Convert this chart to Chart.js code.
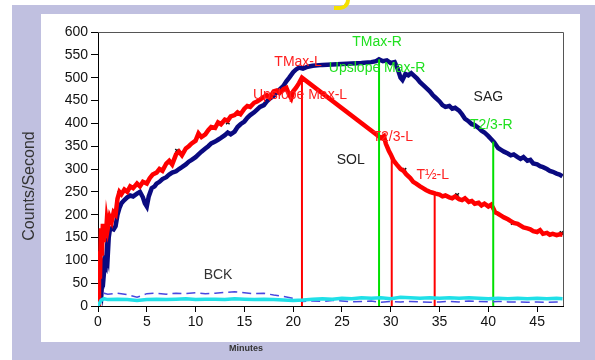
<!DOCTYPE html>
<html>
<head>
<meta charset="utf-8">
<script src="https://cdn.jsdelivr.net/npm/chart.js@4/dist/chart.umd.min.js"></script>
<style>
  body { margin: 0; background: #fff; font-family: "Liberation Sans", Arial, sans-serif; }
  #wrap { position: relative; width: 595px; height: 360px; overflow: hidden; }
  #frame { position: absolute; left: 12px; top: 5px; width: 583px; height: 355px; background: #c0c0e0; }
  #panel { position: absolute; left: 41px; top: 14px; width: 539px; height: 328px; background: #fff; }
  #blob { position: absolute; left: 334px; top: -6px; width: 12px; height: 12px; border-bottom: 4px solid #f4e000; border-right: 4px solid #f4e000; border-radius: 0 0 10px 0; }
  canvas { position: absolute; left: 0; top: 0; }
</style>
</head>
<body>
<div id="wrap">
  <div id="frame"></div>
  <div id="panel"></div>
  <div id="blob"></div>
  <canvas id="curveChart" width="595" height="360"></canvas>
</div>
<script>
// left kidney (red) counts/second
const leftMinutes = [0, 0.1, 0.2, 0.3, 0.4, 0.5, 0.6, 0.7, 0.8, 0.9, 1.0, 1.2, 1.4, 1.6, 1.8, 2.0, 2.2, 2.4, 2.7, 3.0, 3.3, 3.6, 4.0, 4.3, 4.6, 5.0, 5.3, 5.6, 6.0, 6.3, 6.6, 7.0, 7.3, 7.6, 8.0, 8.3, 8.6, 9.0, 9.3, 9.6, 10.0, 10.3, 10.6, 11.0, 11.3, 11.6, 12.0, 12.3, 12.6, 13.0, 13.3, 13.6, 14.0, 14.3, 14.6, 15.0, 15.3, 15.6, 16.0, 16.3, 16.6, 17.0, 17.3, 17.6, 18.0, 18.3, 18.6, 19.0, 19.3, 19.6, 19.8, 20.0, 20.3, 20.6, 20.9, 29.0, 29.3, 29.5, 29.8, 30.0, 30.3, 30.6, 31.0, 31.3, 31.6, 32.0, 32.3, 32.6, 33.0, 33.3, 33.6, 34.0, 34.3, 34.6, 35.0, 35.3, 35.6, 36.0, 36.3, 36.6, 37.0, 37.3, 37.6, 38.0, 38.3, 38.6, 39.0, 39.3, 39.6, 40.0, 40.3, 40.5, 40.7, 41.0, 41.3, 41.6, 42.0, 42.3, 42.6, 43.0, 43.3, 43.6, 44.0, 44.3, 44.6, 45.0, 45.3, 45.6, 46.0, 46.3, 46.6, 47.0, 47.3, 47.6];
const leftCounts = [0, 120, 60, 170, 110, 180, 140, 175, 150, 185, 170, 195, 185, 205, 200, 235, 250, 245, 255, 250, 262, 258, 268, 262, 272, 268, 280, 288, 292, 300, 296, 312, 318, 310, 332, 338, 330, 345, 350, 356, 362, 378, 370, 376, 385, 392, 390, 402, 398, 408, 406, 415, 418, 424, 420, 432, 438, 436, 445, 448, 452, 458, 462, 456, 470, 472, 466, 475, 478, 462, 455, 470, 478, 488, 500, 368, 372, 355, 340, 332, 318, 310, 300, 296, 288, 280, 272, 268, 262, 258, 254, 250, 248, 246, 244, 240, 242, 238, 236, 240, 234, 232, 236, 228, 230, 224, 226, 220, 224, 218, 222, 214, 205, 202, 198, 194, 190, 186, 182, 180, 176, 172, 170, 168, 164, 162, 166, 158, 160, 156, 158, 155, 157, 156];

// right kidney (navy) counts/second
const rightMinutes = [0, 0.2, 0.3, 0.4, 0.5, 0.6, 0.7, 0.8, 0.9, 1.0, 1.1, 1.2, 1.4, 1.6, 1.8, 2.0, 2.2, 2.4, 2.7, 3.0, 3.3, 3.6, 4.0, 4.3, 4.6, 4.8, 5.0, 5.2, 5.5, 5.8, 6.0, 6.3, 6.6, 7.0, 7.3, 7.6, 8.0, 8.3, 8.6, 9.0, 9.3, 9.6, 10.0, 10.3, 10.6, 11.0, 11.3, 11.6, 12.0, 12.3, 12.6, 13.0, 13.3, 13.6, 14.0, 14.3, 14.6, 15.0, 15.3, 15.6, 16.0, 16.3, 16.6, 17.0, 17.3, 17.6, 18.0, 18.3, 18.6, 19.0, 19.3, 19.6, 20.0, 20.3, 20.6, 21.0, 21.5, 22.0, 23.0, 24.0, 25.0, 26.0, 27.0, 28.0, 28.5, 28.8, 29.2, 29.6, 30.0, 30.4, 30.7, 31.0, 31.2, 31.5, 31.8, 32.1, 32.4, 32.7, 33.0, 33.3, 33.6, 34.0, 34.3, 34.6, 35.0, 35.3, 35.6, 36.0, 36.3, 36.6, 37.0, 37.3, 37.6, 38.0, 38.3, 38.6, 39.0, 39.3, 39.6, 40.0, 40.3, 40.6, 40.8, 41.0, 41.3, 41.6, 42.0, 42.3, 42.6, 43.0, 43.3, 43.6, 44.0, 44.3, 44.6, 45.0, 45.3, 45.6, 46.0, 46.3, 46.6, 47.0, 47.3, 47.6];
const rightCounts = [0, 20, 60, 45, 80, 70, 95, 90, 120, 110, 150, 165, 170, 168, 175, 200, 215, 225, 232, 238, 242, 240, 246, 250, 238, 225, 218, 240, 258, 262, 268, 272, 278, 282, 288, 292, 295, 300, 304, 310, 316, 320, 326, 332, 338, 345, 350, 356, 360, 364, 368, 374, 380, 376, 382, 392, 398, 404, 412, 418, 424, 430, 436, 440, 448, 454, 460, 468, 474, 482, 492, 500, 512, 518, 522, 520, 524, 526, 528, 529, 530, 531, 532, 534, 536, 540, 536, 538, 532, 534, 520, 500, 495, 508, 505, 510, 504, 498, 490, 484, 478, 470, 462, 456, 448, 440, 436, 438, 432, 434, 428, 420, 410, 404, 398, 396, 390, 384, 380, 372, 365, 358, 352, 346, 342, 338, 334, 330, 332, 326, 322, 326, 318, 320, 312, 310, 306, 304, 300, 296, 294, 290, 288, 284];

// background regions
const bckMinutes = [0, 0.3, 0.6, 1, 2, 3, 4, 5, 6, 7, 8, 9, 10, 11, 12, 13, 14, 15, 16, 17, 18, 19, 20, 21, 22, 23, 24, 25, 26, 27, 28, 29, 30, 31, 32, 33, 34, 35, 36, 37, 38, 39, 40, 41, 42, 43, 44, 45, 46, 47, 47.6];
const bckSolid = [0, 12, 16, 14, 15, 14, 12, 14, 15, 14, 15, 16, 14, 15, 15, 14, 16, 15, 14, 15, 14, 13, 12, 13, 15, 16, 15, 17, 16, 18, 17, 18, 16, 19, 18, 17, 18, 17, 18, 17, 18, 17, 16, 17, 16, 17, 16, 17, 16, 17, 16];
const bckDashed = [0, 15, 28, 26, 28, 25, 19, 27, 28, 26, 28, 27, 29, 27, 28, 30, 31, 29, 27, 28, 24, 21, 17, 10, 11, 10, 12, 11, 9, 10, 11, 8, 10, 9, 10, 9, 8, 9, 10, 9, 11, 10, 9, 10, 9, 9, 8, 9, 8, 9, 9];

// timing markers
const markerMinutes = [20.9, 28.8, 30.1, 34.5, 40.5];
const markerCounts = [500, 540, 330, 247, 360];
const markerColors = ["#ff0000", "#00e000", "#ff0000", "#ff0000", "#00e000"];

// small dots on the curves
const dotMinutes = [0.4, 2.2, 8.1, 13.3, 31.4, 36.8, 42.5, 47.5];
const dotCounts = [147, 248, 340, 402, 298, 243, 182, 160];

// curve annotations
const noteTexts = ["TMax-L", "Upslope Max-L", "TMax-R", "Upslope Max-R", "SAG", "T2/3-R", "T2/3-L", "SOL", "T½-L", "BCK"];
const noteMinutes = [20.5, 20.7, 28.6, 28.6, 40.0, 40.3, 30.2, 25.9, 34.3, 12.3];
const noteCounts = [534, 462, 578, 521, 458, 396, 370, 320, 287, 68];
const noteColors = ["#ff2020", "#ff2020", "#20e020", "#20e020", "#222", "#20e020", "#ff2020", "#222", "#ff2020", "#333"];

const xTicks = [0, 5, 10, 15, 20, 25, 30, 35, 40, 45];

const pts = (xs, ys) => xs.map((x, i) => ({ x: x, y: ys[i] }));

const datasets = [
  { data: pts(bckMinutes, bckSolid), borderColor: "#20e0e8", borderWidth: 3.5 },
  { data: pts(bckMinutes, bckDashed), borderColor: "#4848e0", borderWidth: 1.5, borderDash: [9, 5] }
];
markerMinutes.forEach((m, i) => {
  datasets.push({ data: [{ x: m, y: 0 }, { x: m, y: markerCounts[i] }], borderColor: markerColors[i], borderWidth: 2 });
});
datasets.push({ data: pts(leftMinutes, leftCounts), borderColor: "#ff0000", borderWidth: 4.5 });
datasets.push({ data: pts(rightMinutes, rightCounts), borderColor: "#0a0a80", borderWidth: 4.5 });
datasets.push({ data: pts(dotMinutes, dotCounts), showLine: false, pointRadius: 2.5, pointStyle: "crossRot", borderColor: "#111", borderWidth: 1.5 });

const notes = {
  id: "notes",
  afterDatasetsDraw(chart) {
    const { ctx, scales: { x, y }, chartArea: a } = chart;
    ctx.save();
    // grey frame on top and right
    ctx.strokeStyle = "#555";
    ctx.lineWidth = 1;
    ctx.beginPath();
    ctx.moveTo(a.left, a.top + 0.5);
    ctx.lineTo(a.right + 0.5, a.top + 0.5);
    ctx.lineTo(a.right + 0.5, a.bottom);
    ctx.stroke();
    ctx.font = "14px 'Liberation Sans', Arial, sans-serif";
    ctx.textAlign = "center";
    ctx.textBaseline = "middle";
    noteTexts.forEach((t, i) => {
      ctx.fillStyle = noteColors[i];
      ctx.fillText(t, x.getPixelForValue(noteMinutes[i]), y.getPixelForValue(noteCounts[i]));
    });
    // axis titles
    ctx.fillStyle = "#333";
    ctx.font = "bold 9px 'Liberation Sans', Arial, sans-serif";
    ctx.fillText("Minutes", 246, 349);
    ctx.translate(30, 186);
    ctx.rotate(-Math.PI / 2);
    ctx.font = "16px 'Liberation Sans', Arial, sans-serif";
    ctx.fillText("Counts/Second", 0, 0);
    ctx.restore();
  }
};

new Chart(document.getElementById("curveChart"), {
  type: "line",
  data: { datasets: datasets },
  options: {
    responsive: false,
    animation: false,
    layout: { padding: { top: 32, right: 32, left: 0, bottom: 0 } },
    elements: { point: { radius: 0 }, line: { tension: 0 } },
    plugins: { legend: { display: false }, tooltip: { enabled: false } },
    scales: {
      x: {
        type: "linear",
        min: 0,
        max: 47.65,
        afterBuildTicks: s => { s.ticks = xTicks.map(v => ({ value: v })); },
        afterFit: s => { s.height = 54; },
        grid: { drawOnChartArea: false, color: "#000", tickLength: 6 },
        border: { color: "#000", width: 1 },
        ticks: { color: "#111", padding: 2, font: { size: 14, family: "'Liberation Sans', Arial" }, maxRotation: 0 }
      },
      y: {
        min: 0,
        max: 600,
        afterFit: s => { s.width = 98; },
        grid: { drawOnChartArea: false, color: "#000", tickLength: 7 },
        border: { color: "#000", width: 1 },
        ticks: { stepSize: 50, color: "#111", padding: 3, font: { size: 14, family: "'Liberation Sans', Arial" } }
      }
    }
  },
  plugins: [notes]
});
</script>
</body>
</html>
